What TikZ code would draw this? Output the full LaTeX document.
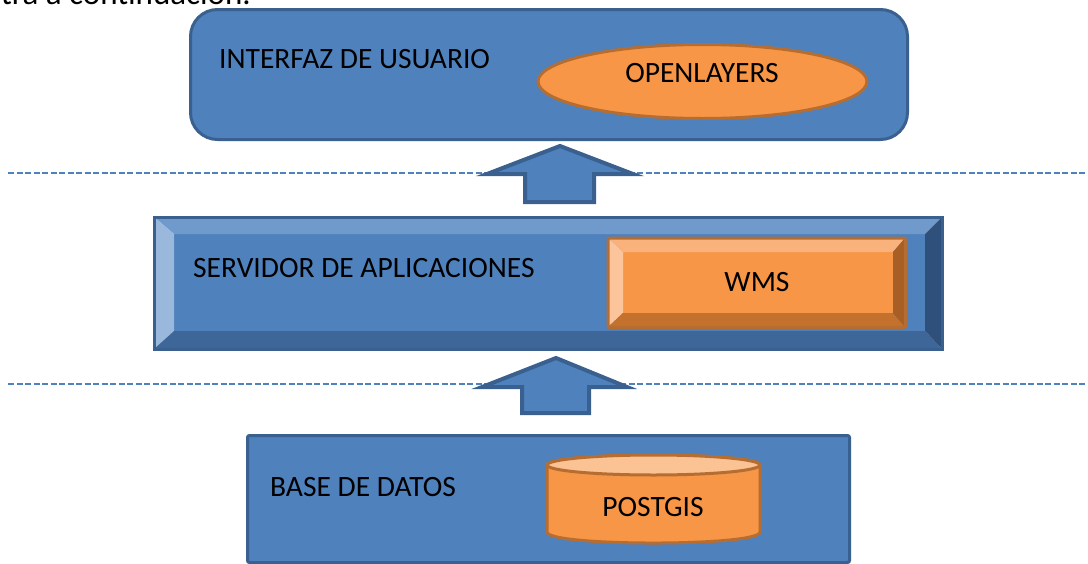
\documentclass[tikz,border=0pt]{standalone}
\usepackage{fontspec}
\setmainfont{Carlito}
\usetikzlibrary{shapes.geometric}
\definecolor{bfill}{HTML}{4F81BD}
\definecolor{bdraw}{HTML}{3A6090}
\definecolor{btop}{HTML}{7099CC}
\definecolor{bleft}{HTML}{9AB7DC}
\definecolor{bbot}{HTML}{3E6698}
\definecolor{bright}{HTML}{30507C}
\definecolor{ofill}{HTML}{F79646}
\definecolor{odraw}{HTML}{B66D31}
\definecolor{otop}{HTML}{FAB27C}
\definecolor{oleft}{HTML}{FBC49A}
\definecolor{obot}{HTML}{C4712E}
\definecolor{oright}{HTML}{A85F26}
\definecolor{olight}{HTML}{FBC294}
\tikzset{
  lbl/.style={font=\fontsize{29.5}{31}\selectfont, text=black, inner sep=0pt},
  bluebox/.style={draw=bdraw, fill=bfill, line width=3pt, inner sep=0pt},
  orangebox/.style={draw=odraw, fill=ofill, line width=3pt, inner sep=0pt},
  sep/.style={draw=bfill, line width=1.3pt, dash pattern=on 6pt off 2.5pt},
  blockarrow/.style={draw=bdraw, fill=bfill, line width=4pt, line join=miter},
}
\begin{document}
\begin{tikzpicture}[x=1pt,y=-1pt]
\useasboundingbox (0,0) rectangle (1088,563);
\clip (0,0) rectangle (1088,563);

% cut-off running text
\node[lbl, font=\fontsize{33}{35}\selectfont, anchor=base east] (intro) at (251,4) {muestra a continuación.};

% separators
\draw[sep] (8,173) -- (1088,173);
\draw[sep] (8,384) -- (1088,384);

% ---- top layer
\node[bluebox, rounded corners=27pt, minimum width=717pt, minimum height=130pt, anchor=north west] (ui) at (189,8) {};
\node[lbl, anchor=west] (uitxt) at (219,59) {INTERFAZ DE USUARIO};
\node[orangebox, ellipse, minimum width=329pt, minimum height=74pt] (ol) at (702.5,81.5) {};
\node[lbl] (oltxt) at (702,73) {OPENLAYERS};

% ---- arrow 1
\draw[blockarrow] (560,146) -- (487,174) -- (525,174) -- (525,202) -- (594,202) -- (594,174) -- (633,174) -- cycle;

% ---- middle layer (bevel)
\node[inner sep=0pt, minimum width=788pt, minimum height=132pt, anchor=north west] (app) at (154,217) {};
\fill[bfill] (174,234) rectangle (925,331);
\fill[btop] (154,217) -- (942,217) -- (925,234) -- (174,234) -- cycle;
\fill[bleft] (154,217) -- (174,234) -- (174,331) -- (154,349) -- cycle;
\fill[bbot] (154,349) -- (174,331) -- (925,331) -- (942,349) -- cycle;
\fill[bright] (942,217) -- (942,349) -- (925,331) -- (925,234) -- cycle;
\draw[draw=bdraw, line width=3pt] (app.north west) rectangle (app.south east);
\node[lbl, anchor=west] (apptxt) at (193,268) {SERVIDOR DE APLICACIONES};

% WMS (bevel)
\node[inner sep=0pt, minimum width=297pt, minimum height=89pt, anchor=north west] (wms) at (608,238) {};
\fill[ofill] (623,252) rectangle (893,313);
\fill[otop] (608,238) -- (905,238) -- (893,252) -- (623,252) -- cycle;
\fill[oleft] (608,238) -- (623,252) -- (623,313) -- (608,327) -- cycle;
\fill[obot] (608,327) -- (623,313) -- (893,313) -- (905,327) -- cycle;
\fill[oright] (905,238) -- (905,327) -- (893,313) -- (893,252) -- cycle;
\draw[draw=odraw, line width=3pt, rounded corners=1.5pt] (wms.north west) rectangle (wms.south east);
\node[lbl] (wmstxt) at (757,282) {WMS};

% ---- arrow 2
\draw[blockarrow] (556,358) -- (482,387) -- (522,387) -- (522,413) -- (589,413) -- (589,387) -- (627,387) -- cycle;

% ---- bottom layer
\node[bluebox, rounded corners=2pt, minimum width=602pt, minimum height=127pt, anchor=north west] (db) at (246,434) {};
\node[lbl, anchor=west] (dbtxt) at (270,487) {BASE DE DATOS};
% cylinder
\draw[draw=odraw, fill=ofill, line width=3pt]
  (547,465) -- (547,532) .. controls (547,546.7) and (760,546.7) .. (760,532)
  -- (760,465) .. controls (760,451.7) and (547,451.7) .. (547,465) -- cycle;
\draw[draw=odraw, fill=olight, line width=3pt] (653.5,465) ellipse [x radius=106.5, y radius=10];
\node[lbl] (pg) at (653,507) {POSTGIS};
\end{tikzpicture}
\end{document}
